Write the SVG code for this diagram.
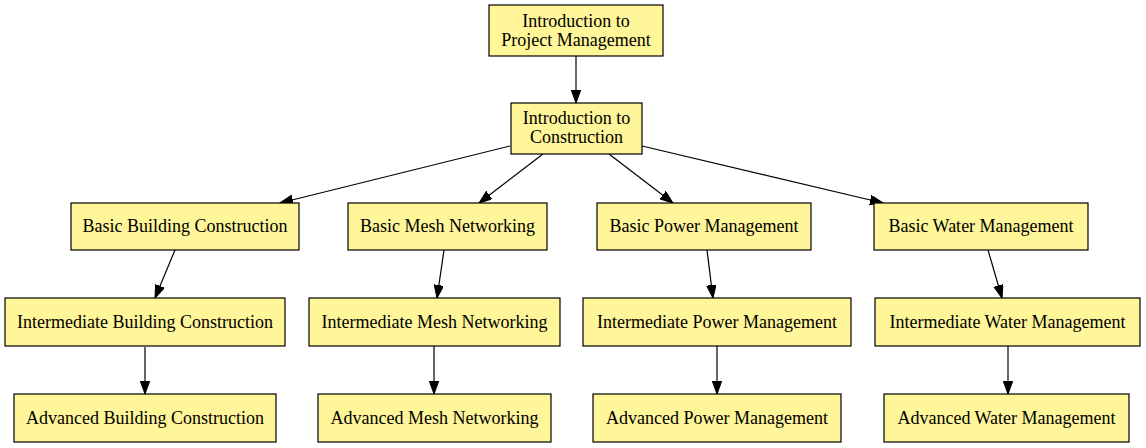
<svg xmlns="http://www.w3.org/2000/svg" width="1146" height="448" viewBox="0 0 1146 448">
<style>
.box{fill:#fff599;stroke:#000;stroke-width:1.2}
.lbl{font-family:"Liberation Serif","Times New Roman",serif;font-size:18px;fill:#000;text-anchor:middle}
.edge{stroke:#000;stroke-width:1.2;fill:none;marker-end:url(#arr)}
</style>
<defs>
<marker id="arr" markerUnits="userSpaceOnUse" markerWidth="14" markerHeight="10" refX="13" refY="4.75" orient="auto">
<path d="M0,0 L13,4.75 L0,9.5 z" fill="#000" stroke="#000" stroke-width="1"/>
</marker>
</defs>
<rect width="1146" height="448" fill="#fff"/>
<g id="connectors">
<line class="edge" x1="576" y1="56" x2="576" y2="103"/>
<line class="edge" x1="510" y1="146" x2="280" y2="203"/>
<line class="edge" x1="543" y1="154" x2="479" y2="203"/>
<line class="edge" x1="609" y1="154" x2="673" y2="203"/>
<line class="edge" x1="642" y1="146" x2="883" y2="203"/>
<line class="edge" x1="175" y1="250" x2="155" y2="298"/>
<line class="edge" x1="444" y1="250" x2="437" y2="298"/>
<line class="edge" x1="707" y1="250" x2="713" y2="298"/>
<line class="edge" x1="988" y1="250" x2="1002" y2="298"/>
<line class="edge" x1="145" y1="347" x2="145" y2="394"/>
<line class="edge" x1="434" y1="346" x2="434" y2="394"/>
<line class="edge" x1="717" y1="346" x2="717" y2="394"/>
<line class="edge" x1="1008" y1="346" x2="1008" y2="394"/>
</g>
<g id="intro_pm"><rect class="box" x="489" y="5" width="174" height="51"/><text class="lbl" x="576" y="27">Introduction to</text><text class="lbl" x="576" y="46">Project Management</text></g>
<g id="intro_con"><rect class="box" x="511" y="103" width="131" height="51"/><text class="lbl" x="576.5" y="124">Introduction to</text><text class="lbl" x="576.5" y="143">Construction</text></g>
<g id="basic_building"><rect class="box" x="71" y="203" width="228" height="47"/><text class="lbl" x="185" y="232">Basic Building Construction</text></g>
<g id="basic_mesh"><rect class="box" x="348" y="203" width="199" height="47"/><text class="lbl" x="447.5" y="232">Basic Mesh Networking</text></g>
<g id="basic_power"><rect class="box" x="597" y="203" width="214" height="47"/><text class="lbl" x="704" y="232">Basic Power Management</text></g>
<g id="basic_water"><rect class="box" x="874" y="203" width="214" height="47"/><text class="lbl" x="981" y="232">Basic Water Management</text></g>
<g id="inter_building"><rect class="box" x="5" y="298" width="280" height="48"/><text class="lbl" x="145" y="328">Intermediate Building Construction</text></g>
<g id="inter_mesh"><rect class="box" x="309" y="298" width="251" height="48"/><text class="lbl" x="434.5" y="328">Intermediate Mesh Networking</text></g>
<g id="inter_power"><rect class="box" x="583" y="298" width="268" height="48"/><text class="lbl" x="717" y="328">Intermediate Power Management</text></g>
<g id="inter_water"><rect class="box" x="875" y="298" width="265" height="48"/><text class="lbl" x="1007.5" y="328">Intermediate Water Management</text></g>
<g id="adv_building"><rect class="box" x="14" y="394" width="262" height="48"/><text class="lbl" x="145" y="424">Advanced Building Construction</text></g>
<g id="adv_mesh"><rect class="box" x="318" y="394" width="233" height="48"/><text class="lbl" x="434.5" y="424">Advanced Mesh Networking</text></g>
<g id="adv_power"><rect class="box" x="593" y="394" width="248" height="48"/><text class="lbl" x="717" y="424">Advanced Power Management</text></g>
<g id="adv_water"><rect class="box" x="884" y="394" width="245" height="48"/><text class="lbl" x="1006.5" y="424">Advanced Water Management</text></g>
</svg>
